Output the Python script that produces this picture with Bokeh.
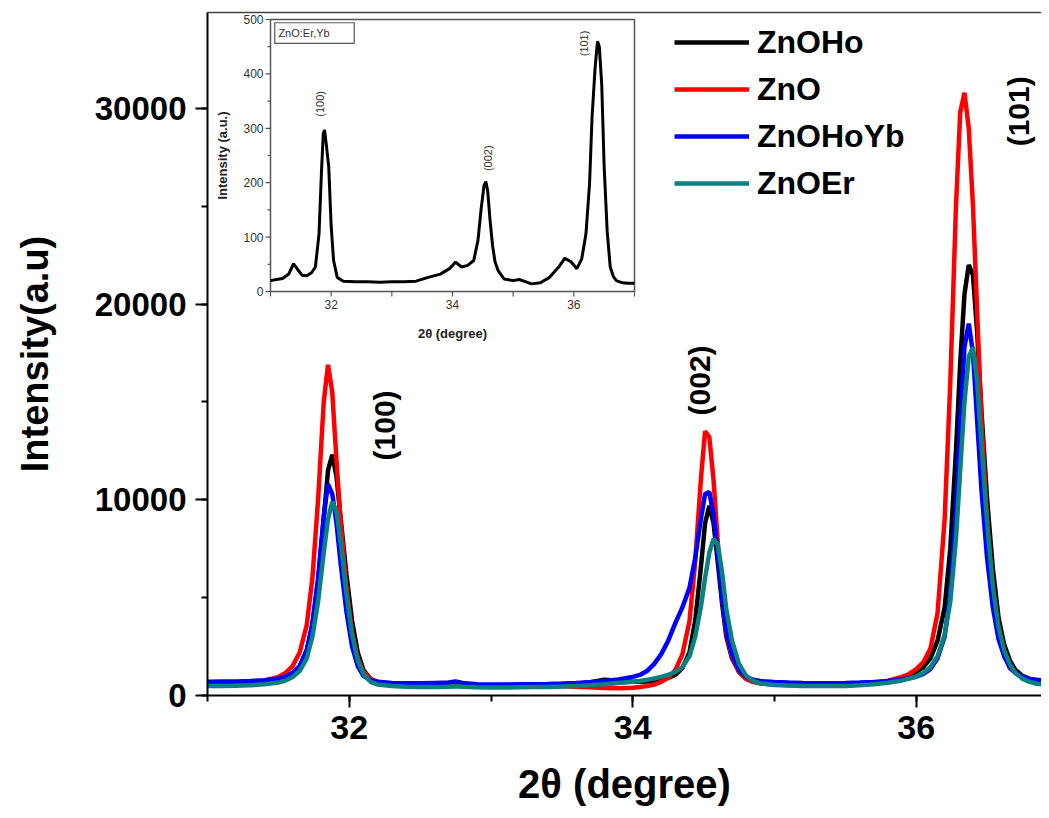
import numpy as np
from bokeh.plotting import figure
from bokeh.models import Range1d, SingleIntervalTicker, FixedTicker, Legend, LegendItem, LinearAxis
from bokeh.core.properties import value
from bokeh.embed import file_html
from bokeh.resources import INLINE

FONT = "Liberation Sans"

# ---------------- main data ----------------
two_theta = [31.0, 31.1, 31.2, 31.3, 31.4, 31.5,
             31.55, 31.6, 31.65, 31.7, 31.74, 31.78, 31.82, 31.85, 31.88, 31.91, 31.94, 31.98, 32.02, 32.06, 32.1, 32.15, 32.2,
             32.3, 32.4, 32.5, 32.6, 32.7, 32.75, 32.8, 32.9, 33.0, 33.1, 33.2, 33.3, 33.4, 33.5, 33.6, 33.7, 33.8, 33.9, 34.0,
             34.05, 34.1, 34.15, 34.2, 34.25, 34.3, 34.35, 34.4, 34.44, 34.48, 34.51, 34.54, 34.57, 34.6, 34.63, 34.66, 34.7, 34.75, 34.8, 34.85, 34.9, 35.0,
             35.1, 35.2, 35.3, 35.4, 35.5, 35.6, 35.7, 35.8, 35.9, 35.95, 36.0,
             36.05, 36.1, 36.15, 36.2, 36.24, 36.28, 36.31, 36.34, 36.37, 36.40, 36.43, 36.46, 36.5, 36.54, 36.58, 36.62, 36.66, 36.7, 36.75, 36.8, 36.85, 36.9, 36.95]

zno_ho = [600, 610, 620, 650, 700, 820,
          950, 1150, 1500, 2300, 3600, 5800, 9000, 11500, 12300, 11200, 9000, 6200, 3800, 2200, 1300, 850, 650,
          560, 530, 520, 520, 540, 560, 530, 500, 490, 500, 500, 510, 530, 560, 600, 680, 800, 760, 700,
          700, 720, 760, 820, 900, 1050, 1400, 2200, 3800, 6500, 8800, 9700, 8800, 6800, 4700, 3000, 1900, 1200, 850, 700, 620, 560,
          540, 520, 510, 510, 520, 560, 620, 720, 880, 1000, 1200,
          1450, 1900, 2800, 4500, 7500, 12500, 17000, 20500, 22000, 21500, 18500, 14500, 10000, 6500, 4000, 2600, 1800, 1300, 1000, 850, 760, 700, 680]

zno = [600, 620, 640, 680, 760, 950,
       1150, 1500, 2200, 3600, 6000, 10000, 15000, 16900, 15500, 12000, 8800, 5500, 3200, 1900, 1200, 850, 700,
       600, 570, 560, 560, 600, 680, 580, 520, 500, 500, 490, 490, 480, 470, 450, 420, 380, 370, 400,
       430, 480, 560, 700, 900, 1300, 2100, 3800, 6800, 11000, 13500, 13200, 11000, 7800, 5000, 3200, 2000, 1200, 850, 700, 620, 560,
       540, 520, 520, 530, 550, 580, 640, 760, 950, 1100, 1350,
       1700, 2400, 4200, 9000, 16000, 25000, 29800, 30800, 29000, 25000, 19500, 14000, 8800, 5200, 3200, 2100, 1400, 1150, 950, 820, 750, 700, 680]

zno_ho_yb = [700, 710, 720, 740, 780, 860,
             960, 1150, 1500, 2300, 3700, 6000, 9200, 10800, 10300, 8800, 6700, 4300, 2500, 1500, 1000, 780, 700,
             640, 620, 620, 640, 660, 720, 640, 580, 560, 560, 580, 580, 590, 610, 640, 680, 740, 820, 950,
             1050, 1250, 1600, 2100, 2800, 3700, 4500, 5500, 7000, 9000, 10300, 10400, 9200, 7200, 5000, 3300, 2100, 1300, 950, 800, 740, 690,
             660, 640, 630, 630, 640, 660, 690, 740, 820, 880, 960,
             1100, 1350, 1900, 3000, 5200, 9500, 14000, 17800, 19000, 17500, 14000, 10500, 7000, 4500, 2900, 2000, 1450, 1150, 950, 850, 800, 770, 750]

zno_er = [480, 490, 500, 520, 570, 660,
          760, 950, 1250, 1900, 3000, 4800, 7300, 9000, 9900, 9400, 7800, 5200, 3100, 1800, 1100, 700, 560,
          480, 450, 440, 440, 450, 470, 450, 420, 410, 410, 420, 430, 440, 460, 490, 530, 580, 640, 700,
          740, 800, 870, 950, 1050, 1200, 1450, 2000, 3000, 4500, 6000, 7300, 8000, 7700, 6300, 4400, 2800, 1600, 1000, 750, 620, 540,
          510, 490, 480, 480, 490, 520, 570, 650, 770, 860, 980,
          1150, 1450, 2000, 3100, 4800, 8000, 11500, 15000, 17300, 17800, 16000, 12800, 8800, 5600, 3500, 2300, 1600, 1150, 850, 700, 600, 560, 540]

series_names = ["ZnOHo", "ZnO", "ZnOHoYb", "ZnOEr"]
series_values = [zno_ho, zno, zno_ho_yb, zno_er]
series_colors = ["#000000", "#ff0000", "#0000ff", "#0a8080"]

peak_labels = ["(100)", "(002)", "(101)"]
peak_label_x = [32.25, 34.47, 36.72]
peak_label_y = [13800, 16100, 29850]

# ---------------- inset data (ZnO:Er,Yb) ----------------
inset_x = [31.0, 31.1, 31.2, 31.3, 31.38, 31.45, 31.52, 31.6, 31.68, 31.74, 31.8, 31.84, 31.87, 31.89, 31.92, 31.96, 32.0, 32.04, 32.1, 32.2,
           32.4, 32.6, 32.8, 33.0, 33.2, 33.4, 33.6, 33.8, 33.95, 34.05, 34.15, 34.25, 34.35, 34.42, 34.47, 34.52, 34.55, 34.58, 34.62, 34.66, 34.7, 34.75, 34.85,
           35.0, 35.1, 35.2, 35.3, 35.45, 35.6, 35.75, 35.85, 35.95, 36.05, 36.13, 36.2, 36.26, 36.3, 36.35, 36.39, 36.42, 36.46, 36.5, 36.55, 36.6, 36.65, 36.7, 36.8, 36.9, 37.0]
inset_y = [20, 22, 24, 32, 51, 40, 30, 29, 35, 45, 106, 220, 290, 297, 270, 229, 120, 57, 26, 19,
           18, 18, 17, 18, 18, 19, 26, 32, 42, 54, 45, 48, 57, 94, 150, 195, 202, 185, 130, 85, 55, 39, 23,
           20, 22, 18, 14, 16, 26, 45, 61, 55, 42, 60, 106, 200, 320, 410, 460, 450, 380, 229, 110, 45, 28, 20, 16, 15, 15]
inset_x_labels = [32, 34, 36]
inset_x_ticks = [31, 32, 33, 34, 35, 36, 37]
inset_y_labels = [0, 100, 200, 300, 400, 500]
inset_y_minor = [50, 150, 250, 350, 450]
inset_peak_labels = ["(100)", "(002)", "(101)"]
inset_peak_x = [31.81, 34.59, 36.16]
inset_peak_y = [345, 245, 456]

# ---------------- layout constants ----------------
W, H = 1041, 810
FRAME = (207, 1041, 12, 695)      # px of main frame: left, right, top, bottom
INSET = (270, 634, 19, 291)       # px of inset frame
XR = (31.0, 36.0)                 # main x reference points
XPX = (208.5, 916.0)
xs = (XPX[1] - XPX[0]) / (XR[1] - XR[0])
x_end = XR[0] + (FRAME[1] - XPX[0]) / xs
IX = (31.0, 37.0)
IY = (0.0, 500.0)
sx = (INSET[1] - INSET[0]) / (IX[1] - IX[0])
sy = (INSET[3] - INSET[2]) / (IY[1] - IY[0])
ix_range = Range1d(IX[0] - (INSET[0] - FRAME[0]) / sx, IX[1] + (FRAME[1] - INSET[1]) / sx)
iy_range = Range1d(IY[0] - (FRAME[3] - INSET[3]) / sy, IY[1] + (INSET[2] - FRAME[2]) / sy)

p = figure(width=W, height=H, x_range=Range1d(31, x_end), y_range=Range1d(0, 34900),
           output_backend="svg", toolbar_location=None,
           min_border_left=FRAME[0], min_border_right=W - FRAME[1],
           min_border_top=FRAME[2], min_border_bottom=H - FRAME[3],
           outline_line_color=None)
p.extra_x_ranges = {"ix": ix_range}
p.extra_y_ranges = {"iy": iy_range}
p.grid.visible = False
p.background_fill_color = "white"
p.border_fill_color = "white"

# axes
p.xaxis.ticker = SingleIntervalTicker(interval=2, num_minor_ticks=2)
p.yaxis.ticker = SingleIntervalTicker(interval=10000, num_minor_ticks=2)
for ax in (p.xaxis[0], p.yaxis[0]):
    ax.axis_line_width = 2
    ax.axis_line_color = "black"
    ax.major_tick_line_width = 2
    ax.minor_tick_line_width = 2
    ax.major_tick_out = 12
    ax.major_tick_in = 0
    ax.minor_tick_out = 6
    ax.minor_tick_in = 0
    ax.major_label_text_font = FONT
    ax.major_label_text_font_style = "bold"
    ax.major_label_text_color = "black"
    ax.axis_label_text_font = FONT
    ax.axis_label_text_font_style = "bold"
    ax.axis_label_text_color = "black"
p.xaxis.major_label_text_font_size = "34px"
p.yaxis.major_label_text_font_size = "33px"
p.xaxis.major_label_standoff = 8
p.yaxis.major_label_standoff = 9
p.xaxis.axis_label = "2\u03b8 (degree)"
p.yaxis.axis_label = "Intensity(a.u)"
p.xaxis.axis_label_text_font_size = "40px"
p.yaxis.axis_label_text_font_size = "38px"
p.xaxis.axis_label_standoff = 20
p.yaxis.axis_label_standoff = 36

top_axis = LinearAxis(ticker=FixedTicker(ticks=[]), major_tick_line_color=None, minor_tick_line_color=None,
                      axis_line_color="#444444", axis_line_width=1.5)
p.add_layout(top_axis, "above")

# inset frame (white background)
p.quad(left=[IX[0]], right=[IX[1]], bottom=[IY[0]], top=[IY[1]], x_range_name="ix", y_range_name="iy",
       fill_color="white", line_color="#555555", line_width=1.5)

# main series
renderers = []
for name, vals, col in zip(series_names, series_values, series_colors):
    r = p.line(two_theta, vals, line_color=col, line_width=4.5)
    renderers.append(r)

# main peak labels
p.text(x=peak_label_x, y=peak_label_y, text=peak_labels, angle=np.pi / 2,
       text_font=value(FONT), text_font_style="bold", text_font_size="30px",
       text_align="center", text_baseline="middle", text_color="black")

# legend
legend = Legend(items=[LegendItem(label=n, renderers=[r]) for n, r in zip(series_names, renderers)],
                location=(467, 492), glyph_width=75, glyph_height=40, label_height=40,
                label_text_font=FONT, label_text_font_style="bold", label_text_font_size="32px",
                label_text_color="black",
                label_standoff=8, spacing=7, padding=0, margin=0,
                border_line_color=None, background_fill_alpha=0)
p.add_layout(legend)

# inset curve
p.line(inset_x, inset_y, x_range_name="ix", y_range_name="iy", line_color="black", line_width=3)

# inset ticks
p.ray(x=inset_x_ticks, y=[IY[0]] * len(inset_x_ticks), length=5, length_units="screen",
      angle=-np.pi / 2, x_range_name="ix", y_range_name="iy", line_color="#555555", line_width=1.2)
p.ray(x=[IX[0]] * len(inset_y_labels), y=inset_y_labels, length=5, length_units="screen",
      angle=np.pi, x_range_name="ix", y_range_name="iy", line_color="#555555", line_width=1.2)
p.ray(x=[IX[0]] * len(inset_y_minor), y=inset_y_minor, length=3, length_units="screen",
      angle=np.pi, x_range_name="ix", y_range_name="iy", line_color="#555555", line_width=1.2)

# inset tick labels
p.text(x=[IX[0]] * len(inset_y_labels), y=inset_y_labels, text=[str(v) for v in inset_y_labels],
       x_range_name="ix", y_range_name="iy", x_offset=-7, text_align="right", text_baseline="middle",
       text_font=value(FONT), text_font_size="12px", text_color="#333333")
p.text(x=inset_x_labels, y=[IY[0]] * len(inset_x_labels), text=[str(v) for v in inset_x_labels],
       x_range_name="ix", y_range_name="iy", y_offset=8, text_align="center", text_baseline="top",
       text_font=value(FONT), text_font_size="12px", text_color="#333333")

# inset axis titles
p.text(x=[30.21], y=[250], text=["Intensity (a.u.)"], angle=np.pi / 2,
       x_range_name="ix", y_range_name="iy", text_align="center", text_baseline="middle",
       text_font=value(FONT), text_font_style="bold", text_font_size="13px", text_color="#222222")
p.text(x=[34.0], y=[-77], text=["2\u03b8 (degree)"],
       x_range_name="ix", y_range_name="iy", text_align="center", text_baseline="middle",
       text_font=value(FONT), text_font_style="bold", text_font_size="13px", text_color="#222222")

# inset peak labels
p.text(x=inset_peak_x, y=inset_peak_y, text=inset_peak_labels, angle=np.pi / 2,
       x_range_name="ix", y_range_name="iy", text_align="center", text_baseline="middle",
       text_font=value(FONT), text_font_size="11px", text_color="#333333")

# inset sample box
p.quad(left=[31.07], right=[32.38], bottom=[456], top=[494], x_range_name="ix", y_range_name="iy",
       fill_color="white", line_color="#555555", line_width=1.2)
p.text(x=[31.13], y=[475], text=["ZnO:Er,Yb"], x_range_name="ix", y_range_name="iy",
       text_align="left", text_baseline="middle",
       text_font=value(FONT), text_font_size="11px", text_color="#333333")

open("out.html", "w").write(file_html(p, INLINE))
